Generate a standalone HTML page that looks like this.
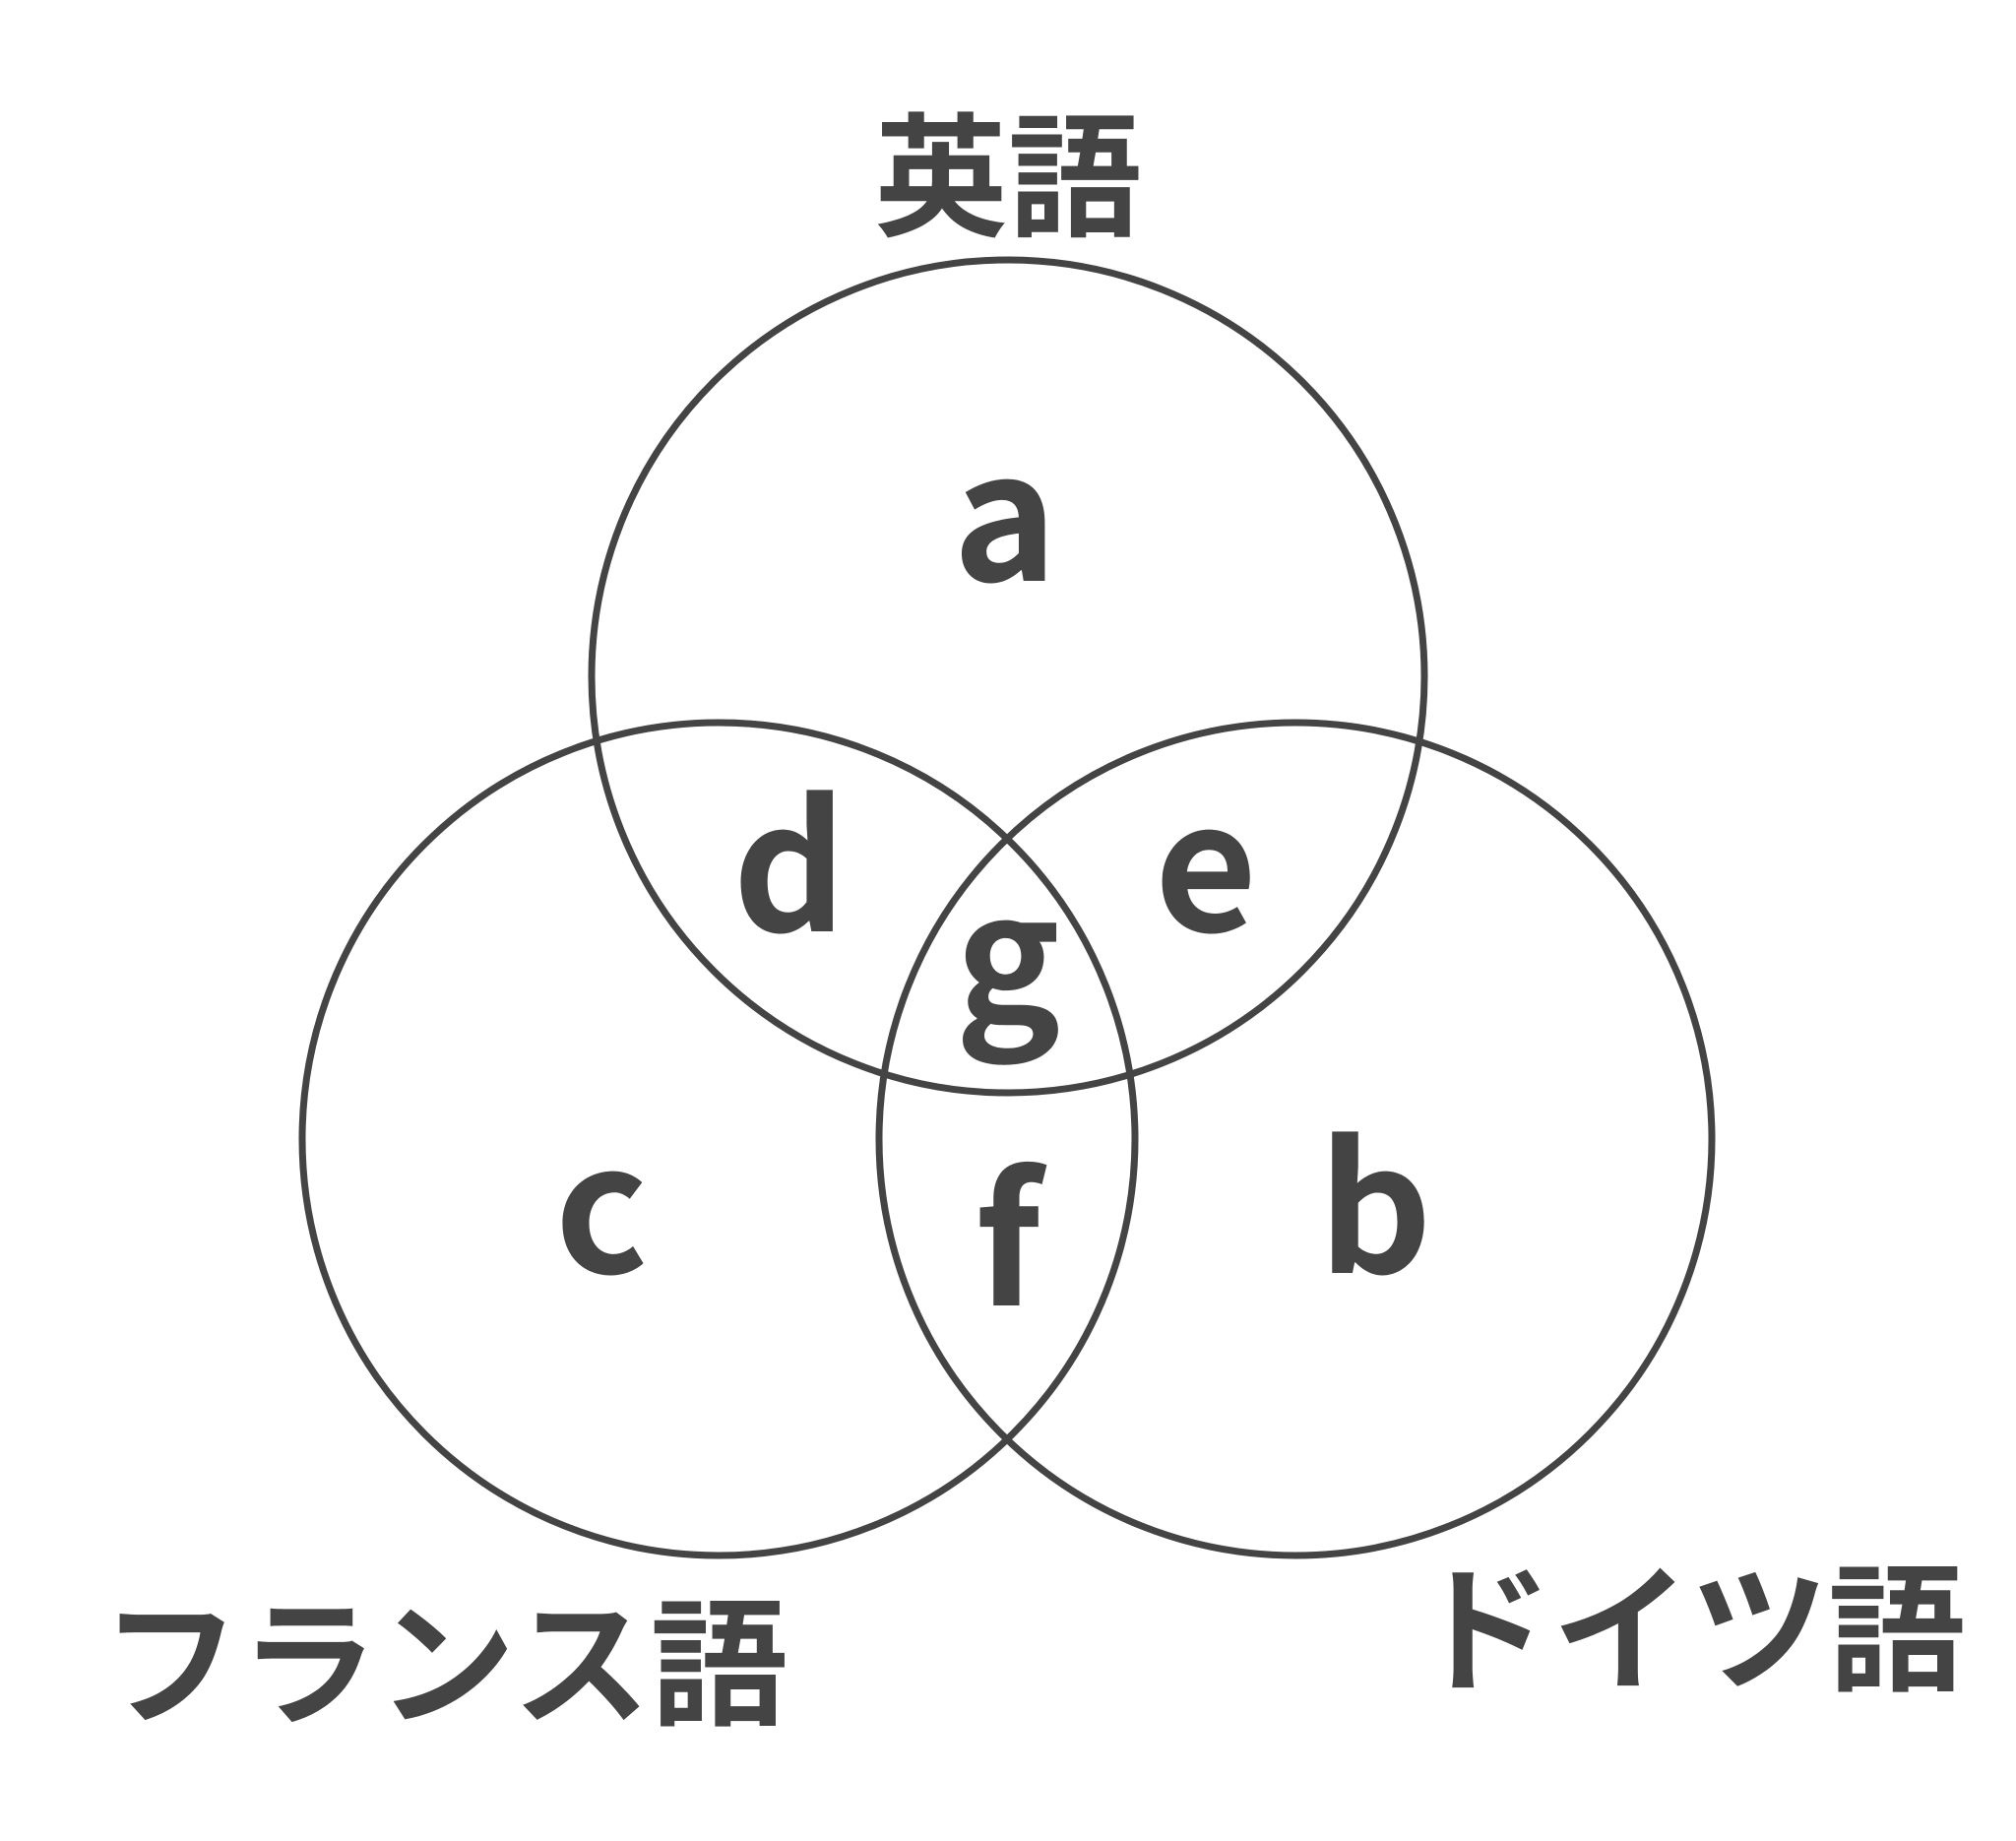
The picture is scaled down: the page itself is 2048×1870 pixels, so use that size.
<!DOCTYPE html>
<html><head><meta charset="utf-8"><style>
html,body{margin:0;padding:0;background:#fff;}
svg{display:block;}
text{fill:#444;font-weight:bold;}
.l{font-family:"Noto Sans CJK JP",sans-serif;font-size:180px;}
.j{font-family:"Noto Sans CJK JP",sans-serif;font-size:140px;}
</style></head><body>
<svg width="2048" height="1870" viewBox="0 0 2048 1870" xmlns="http://www.w3.org/2000/svg">
<g fill="none" stroke="#444" stroke-width="7">
<circle cx="1024" cy="687" r="423"/>
<circle cx="730" cy="1157" r="423"/>
<circle cx="1316" cy="1157" r="423"/>
</g>
<text class="j" style="font-size:136px" x="1024" y="229" text-anchor="middle">英語</text>
<text class="j" x="452" y="1741" text-anchor="middle">フランス語</text>
<text class="j" x="1717" y="1706" text-anchor="middle">ドイツ語</text>
<text class="l" x="1021" y="590" text-anchor="middle">a</text>
<text class="l" x="802" y="946" text-anchor="middle">d</text>
<text class="l" x="1225" y="946" text-anchor="middle">e</text>
<text class="l" x="1024" y="1038" text-anchor="middle">g</text>
<text class="l" x="611" y="1293" text-anchor="middle">c</text>
<text class="l" x="1024" y="1326" text-anchor="middle">f</text>
<text class="l" x="1397" y="1293" text-anchor="middle">b</text>
</svg>
</body></html>
